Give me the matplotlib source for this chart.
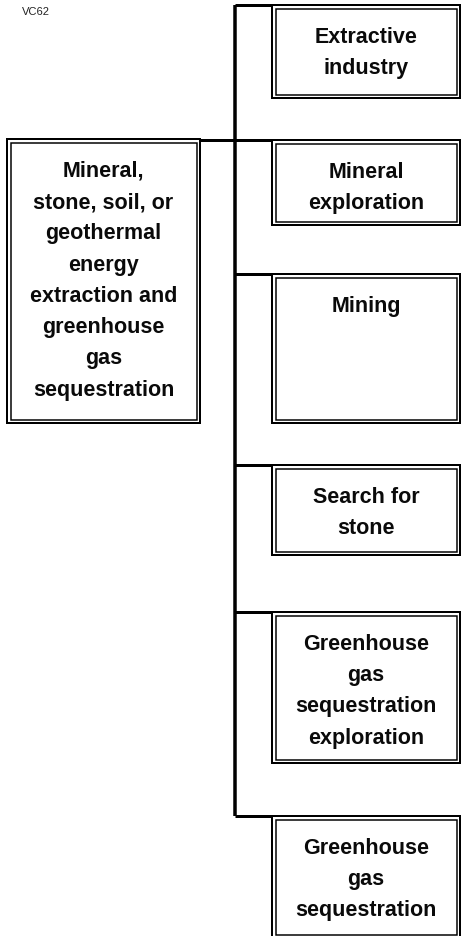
import matplotlib.pyplot as plt
from matplotlib.patches import Rectangle

# Node labels
root_label = "Mineral,\nstone, soil, or\ngeothermal\nenergy\nextraction and\ngreenhouse\ngas\nsequestration"
child_labels = [
    "Extractive\nindustry",
    "Mineral\nexploration",
    "Mining",
    "Search for\nstone",
    "Greenhouse\ngas\nsequestration\nexploration",
    "Greenhouse\ngas\nsequestration",
]
corner_label = "VC62"

# Layout (pixels, y grows downward)
W, H = 462, 936
root_box = (7, 139, 200, 423)          # x0, y0, x1, y1
child_x0, child_x1 = 272, 460
child_tops = [5, 140, 274, 465, 612, 816]
child_bottoms = [98, 225, 423, 555, 763, 938]
trunk_x = 235

fig = plt.figure(figsize=(W / 100, H / 100), dpi=100)
ax = fig.add_axes([0, 0, 1, 1])
ax.set_xlim(0, W)
ax.set_ylim(H, 0)
ax.axis('off')

px = 0.72  # one pixel in points


def double_box(x0, y0, x1, y1, label):
    ax.add_patch(Rectangle((x0, y0), x1 - x0, y1 - y0, fill=False,
                           ec='black', lw=2 * px))
    ax.add_patch(Rectangle((x0 + 3.5, y0 + 3.5), x1 - x0 - 7, y1 - y0 - 7,
                           fill=False, ec='black', lw=1.5 * px))
    ax.text((x0 + x1) / 2, y0 + 22, label, ha='center', va='top',
            fontsize=15.5, fontweight='bold', family='Liberation Sans',
            linespacing=1.64, color='#0a0a0a')


# trunk and connectors
ax.plot([trunk_x, trunk_x], [child_tops[0], child_tops[-1]], color='black',
        lw=3.5 * px, solid_capstyle='butt')
ax.plot([root_box[2], trunk_x], [root_box[1] + 1, root_box[1] + 1],
        color='black', lw=3 * px, solid_capstyle='butt')
for t in child_tops:
    ax.plot([trunk_x, child_x0], [t, t], color='black', lw=3 * px,
            solid_capstyle='butt')

double_box(*root_box, root_label)
for t, b, lab in zip(child_tops, child_bottoms, child_labels):
    double_box(child_x0, t, child_x1, b, lab)

ax.text(22, 12, corner_label, ha='left', va='center', fontsize=8,
        family='Liberation Sans', color='#222222')

fig.savefig('out.png', dpi=100)
